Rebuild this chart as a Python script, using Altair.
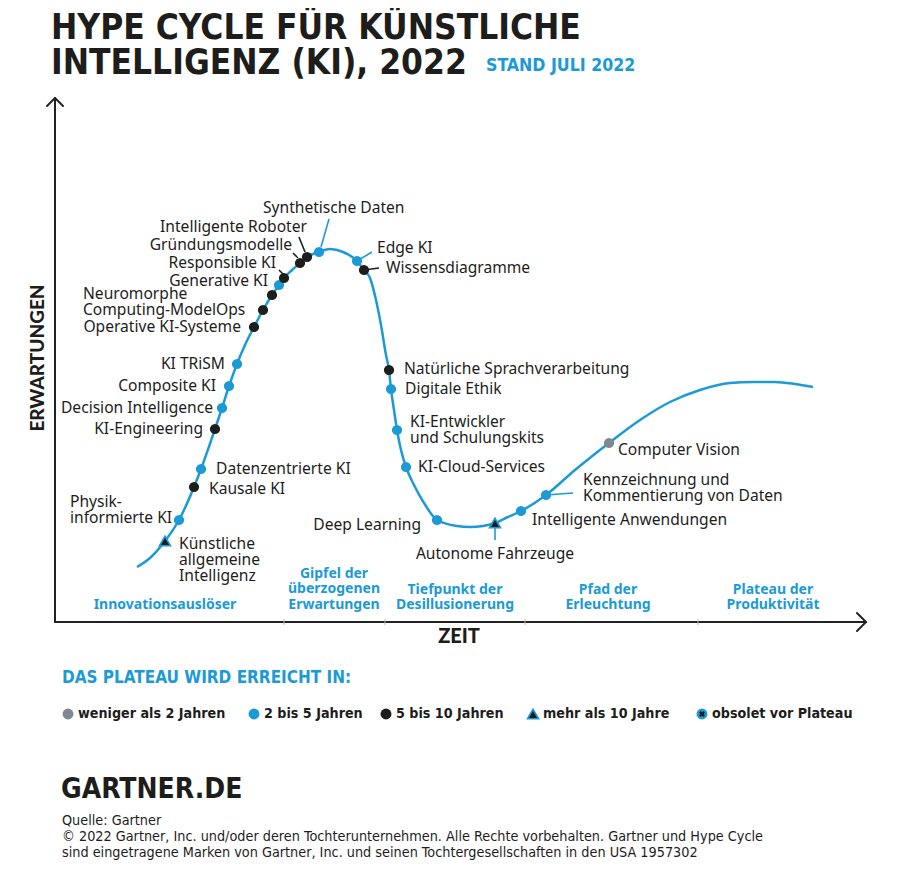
import altair as alt
import pandas as pd

BLUE = "#1b9ad6"
GRAY = "#7f8890"
BLACK = "#1d1d1b"
TEXT = "#1d1d1b"
LABEL_FONT = "Noto Sans"
HEAD_FONT = "'Liberation Sans Narrow', 'DejaVu Sans Condensed', Lato, sans-serif"

# ---- hype curve (page coordinates) ----
curve_x = [137, 150, 165, 179, 194, 201, 215, 222, 229, 237, 245, 254, 263, 272, 279, 284, 292, 300,
           307, 319, 330, 343, 357, 364, 370, 376, 381, 386, 389, 391, 394, 397, 401, 406, 414, 424,
           437, 457, 470, 483, 495, 508, 521, 546, 575, 609, 640, 670, 700, 730, 753, 775, 795, 813]
curve_y = [567, 558, 541, 520, 487, 469, 429, 408, 386, 364, 345, 327, 310, 295, 285, 278, 270, 263,
           257, 252, 249, 252, 261, 270, 278, 300, 325, 355, 370, 389, 410, 430, 450, 467, 485, 503,
           520, 526, 527, 526, 523, 517, 511, 495, 470, 443, 420, 402, 390, 383, 382, 382, 384, 387]

# ---- technologies on the curve ----
tech_names = ["Künstliche allgemeine Intelligenz", "Physik-informierte KI", "Kausale KI",
              "Datenzentrierte KI", "KI-Engineering", "Decision Intelligence", "Composite KI",
              "KI TRiSM", "Operative KI-Systeme", "ModelOps", "Neuromorphes Computing",
              "Generative KI", "Responsible KI", "Gründungsmodelle", "Intelligente Roboter",
              "Synthetische Daten", "Edge KI", "Wissensdiagramme", "Natürliche Sprachverarbeitung",
              "Digitale Ethik", "KI-Entwickler und Schulungskits", "KI-Cloud-Services",
              "Deep Learning", "Autonome Fahrzeuge", "Intelligente Anwendungen",
              "Kennzeichnung und Kommentierung von Daten", "Computer Vision"]
tech_x = [165, 179, 194, 201, 215, 222, 229, 237, 254, 263, 272, 279, 284, 300, 307, 319, 357, 364,
          389, 391, 397, 406, 437, 495, 521, 546, 609]
tech_y = [541, 520, 487, 469, 429, 408, 386, 364, 327, 310, 295, 285, 278, 263, 257, 252, 261, 270,
          370, 389, 430, 467, 520, 523, 511, 495, 443]
tech_class = [">10", "2-5", "5-10", "2-5", "5-10", "2-5", "2-5", "2-5", "5-10", "5-10", "5-10",
              "2-5", "5-10", "5-10", "5-10", "2-5", "2-5", "5-10", "5-10", "2-5", "2-5", "2-5",
              "2-5", ">10", "2-5", "2-5", "<2"]
class_color = {"<2": GRAY, "2-5": BLUE, "5-10": BLACK, ">10": BLACK}

# ---- label lines ----
left_text = ["Synthetische Daten", "Physik-", "informierte KI", "Neuromorphe", "Computing-ModelOps",
             "Datenzentrierte KI", "Kausale KI", "Künstliche", "allgemeine", "Intelligenz",
             "Edge KI", "Wissensdiagramme", "Natürliche Sprachverarbeitung", "Digitale Ethik",
             "KI-Entwickler", "und Schulungskits", "KI-Cloud-Services", "Intelligente Anwendungen",
             "Kennzeichnung und", "Kommentierung von Daten", "Computer Vision"]
left_x = [263, 70, 70, 83, 83, 216, 209, 179, 179, 179, 377, 386, 404, 405, 410, 410, 418, 532,
          583, 583, 618]
left_y = [208, 502, 518, 294, 310, 469, 489, 544, 560, 576, 248, 268, 369, 389, 422, 438, 467, 520,
          480, 496, 450]
right_text = ["KI-Engineering", "Decision Intelligence", "Composite KI", "KI TRiSM",
              "Operative KI-Systeme", "Generative KI", "Responsible KI", "Gründungsmodelle",
              "Intelligente Roboter", "Deep Learning"]
right_x = [203, 213, 216, 225, 241, 268, 276, 292, 307, 421]
right_y = [429, 408, 386, 364, 327, 281, 263, 245, 227, 525]
center_text = ["Autonome Fahrzeuge"]
center_x = [495]
center_y = [554]

# ---- leader lines ----
lead_x = [321, 305, 298, 284, 357, 364, 546, 495]
lead_y = [247, 252, 258, 275, 261, 270, 495, 523]
lead_x2 = [329, 299, 293, 279, 372, 379, 573, 495]
lead_y2 = [219, 237, 253, 270, 252, 268, 493, 540]
lead_col = [BLUE, BLACK, BLACK, BLACK, BLUE, BLACK, BLUE, BLUE]

# ---- axes ----
axis_x = [55, 55, 47, 55, 857, 866]
axis_y = [622, 622, 106, 98, 613, 622]
axis_x2 = [55, 866, 55, 63, 866, 857]
axis_y2 = [98, 622, 98, 106, 622, 631]
phase_tick_x = [284, 385, 525, 698]

# ---- phase names ----
phase_text = ["Innovationsauslöser", "Gipfel der", "überzogenen", "Erwartungen", "Tiefpunkt der",
              "Desillusionerung", "Pfad der", "Erleuchtung", "Plateau der", "Produktivität"]
phase_x = [165, 334, 334, 334, 455, 455, 608, 608, 773, 773]
phase_y = [605, 574, 589, 605, 590, 605, 590, 605, 590, 605]

# ---- legend ----
legend_text = ["weniger als 2 Jahren", "2 bis 5 Jahren", "5 bis 10 Jahren", "mehr als 10 Jahre",
               "obsolet vor Plateau"]
legend_sym_x = [68, 254, 386, 533, 702]
legend_text_x = [78, 264, 396, 543, 712]
legend_class = ["<2", "2-5", "5-10", ">10", "obsolet"]

footer_lines = ["Quelle: Gartner",
                "© 2022 Gartner, Inc. und/oder deren Tochterunternehmen. Alle Rechte vorbehalten. Gartner und Hype Cycle",
                "sind eingetragene Marken von Gartner, Inc. und seinen Tochtergesellschaften in den USA 1957302"]
footer_y = [821, 837, 853]

W, H = 890, 858
xs = alt.Scale(domain=[8, 8 + W], nice=False, zero=False)
ys = alt.Scale(domain=[8, 8 + H], nice=False, zero=False, reverse=True)
X = lambda f="x": alt.X(f"{f}:Q", scale=xs, axis=None)
Y = lambda f="y": alt.Y(f"{f}:Q", scale=ys, axis=None)


def texts(df, align, size, weight="normal", color=TEXT, font=LABEL_FONT, angle=0, baseline="middle"):
    return alt.Chart(df).mark_text(align=align, baseline=baseline, fontSize=size, fontWeight=weight,
                                   color=color, font=font, angle=angle).encode(
        x=X(), y=Y(), text="t:N")


layers = []

# axes
axis_df = pd.DataFrame({"x": axis_x, "y": axis_y, "x2": axis_x2, "y2": axis_y2})
layers.append(alt.Chart(axis_df).mark_rule(color="#222222", strokeWidth=2, strokeCap="round").encode(
    x=X(), y=Y(), x2="x2:Q", y2="y2:Q"))
tick_df = pd.DataFrame({"x": phase_tick_x, "y": [619] * 4, "y2": [625] * 4})
layers.append(alt.Chart(tick_df).mark_rule(color="#bbbbbb", strokeWidth=1).encode(
    x=X(), y=Y(), y2="y2:Q"))

# curve
curve_df = pd.DataFrame({"x": curve_x, "y": curve_y, "i": range(len(curve_x))})
layers.append(alt.Chart(curve_df).mark_line(color=BLUE, strokeWidth=2.5, interpolate="monotone").encode(
    x=X(), y=Y(), order="i:Q"))

# leaders
lead_df = pd.DataFrame({"x": lead_x, "y": lead_y, "x2": lead_x2, "y2": lead_y2, "c": lead_col})
layers.append(alt.Chart(lead_df).mark_rule(strokeWidth=1.6).encode(
    x=X(), y=Y(), x2="x2:Q", y2="y2:Q", color=alt.Color("c:N", scale=None)))

# points
tech_df = pd.DataFrame({"name": tech_names, "x": tech_x, "y": tech_y, "cls": tech_class})
tech_df["c"] = tech_df["cls"].map(class_color)
circ = alt.Chart(tech_df).transform_filter("datum.cls != '>10'").mark_point(
    shape="circle", filled=True, opacity=1, size=105).encode(
    x=X(), y=Y(), color=alt.Color("c:N", scale=None), tooltip="name:N")
tri = alt.Chart(tech_df).transform_filter("datum.cls == '>10'").mark_point(
    shape="triangle-up", filled=True, opacity=1, size=120, fill=BLACK, stroke=BLUE,
    strokeWidth=1.6).encode(x=X(), y=Y(), tooltip="name:N")
layers += [circ, tri]

# labels
layers.append(texts(pd.DataFrame({"t": left_text, "x": left_x, "y": left_y}), "left", 15.6))
layers.append(texts(pd.DataFrame({"t": right_text, "x": right_x, "y": right_y}), "right", 15.6))
layers.append(texts(pd.DataFrame({"t": center_text, "x": center_x, "y": center_y}), "center", 15.6))

# phases
layers.append(texts(pd.DataFrame({"t": phase_text, "x": phase_x, "y": phase_y}), "center", 14,
                    "bold", BLUE))

# axis titles
layers.append(texts(pd.DataFrame({"t": ["ZEIT"], "x": [459], "y": [637]}), "center", 20, 900, font="Lato"))
layers.append(texts(pd.DataFrame({"t": ["ERWARTUNGEN"], "x": [38], "y": [358]}), "center", 19, 900,
                    font="Lato", angle=270))

# title
layers.append(texts(pd.DataFrame({"t": ["HYPE CYCLE FÜR KÜNSTLICHE", "INTELLIGENZ (KI), 2022"],
                                  "x": [51, 51], "y": [39, 73.5]}), "left", 35, "bold", TEXT, HEAD_FONT,
                    baseline="alphabetic"))
layers.append(texts(pd.DataFrame({"t": ["STAND JULI 2022"], "x": [486], "y": [66]}), "left", 17.6,
                    "bold", BLUE, HEAD_FONT))

# legend
layers.append(texts(pd.DataFrame({"t": ["DAS PLATEAU WIRD ERREICHT IN:"], "x": [62], "y": [678]}),
                    "left", 17, "bold", BLUE, HEAD_FONT))
leg_df = pd.DataFrame({"cls": legend_class, "x": legend_sym_x, "y": [714] * 5})
leg_df["c"] = leg_df["cls"].map({**class_color, "obsolet": BLUE})
layers.append(alt.Chart(leg_df).transform_filter("datum.cls != '>10'").mark_point(
    shape="circle", filled=True, opacity=1, size=120).encode(x=X(), y=Y(), color=alt.Color("c:N", scale=None)))
layers.append(alt.Chart(leg_df).transform_filter("datum.cls == 'obsolet'").mark_point(
    shape="cross", filled=True, opacity=1, size=36, angle=45, color=BLACK).encode(x=X(), y=Y()))
layers.append(alt.Chart(leg_df).transform_filter("datum.cls == '>10'").mark_point(
    shape="triangle-up", filled=True, opacity=1, size=120, fill=BLACK, stroke=BLUE,
    strokeWidth=1.6).encode(x=X(), y=Y()))
layers.append(texts(pd.DataFrame({"t": legend_text, "x": legend_text_x, "y": [714] * 5}), "left", 14.2,
                    "bold", TEXT, HEAD_FONT))

# footer
layers.append(texts(pd.DataFrame({"t": ["GARTNER.DE"], "x": [61], "y": [790]}), "left", 28, "bold",
                    TEXT, HEAD_FONT))
layers.append(texts(pd.DataFrame({"t": footer_lines, "x": [62] * 3, "y": footer_y}), "left", 14.3,
                    "normal", TEXT, HEAD_FONT))

chart = alt.layer(*layers).properties(width=W, height=H, padding=0, autosize="none",
                                      background="white").configure_view(stroke=None)
chart.save("out.html", embed_options={"renderer": "svg", "actions": False})
